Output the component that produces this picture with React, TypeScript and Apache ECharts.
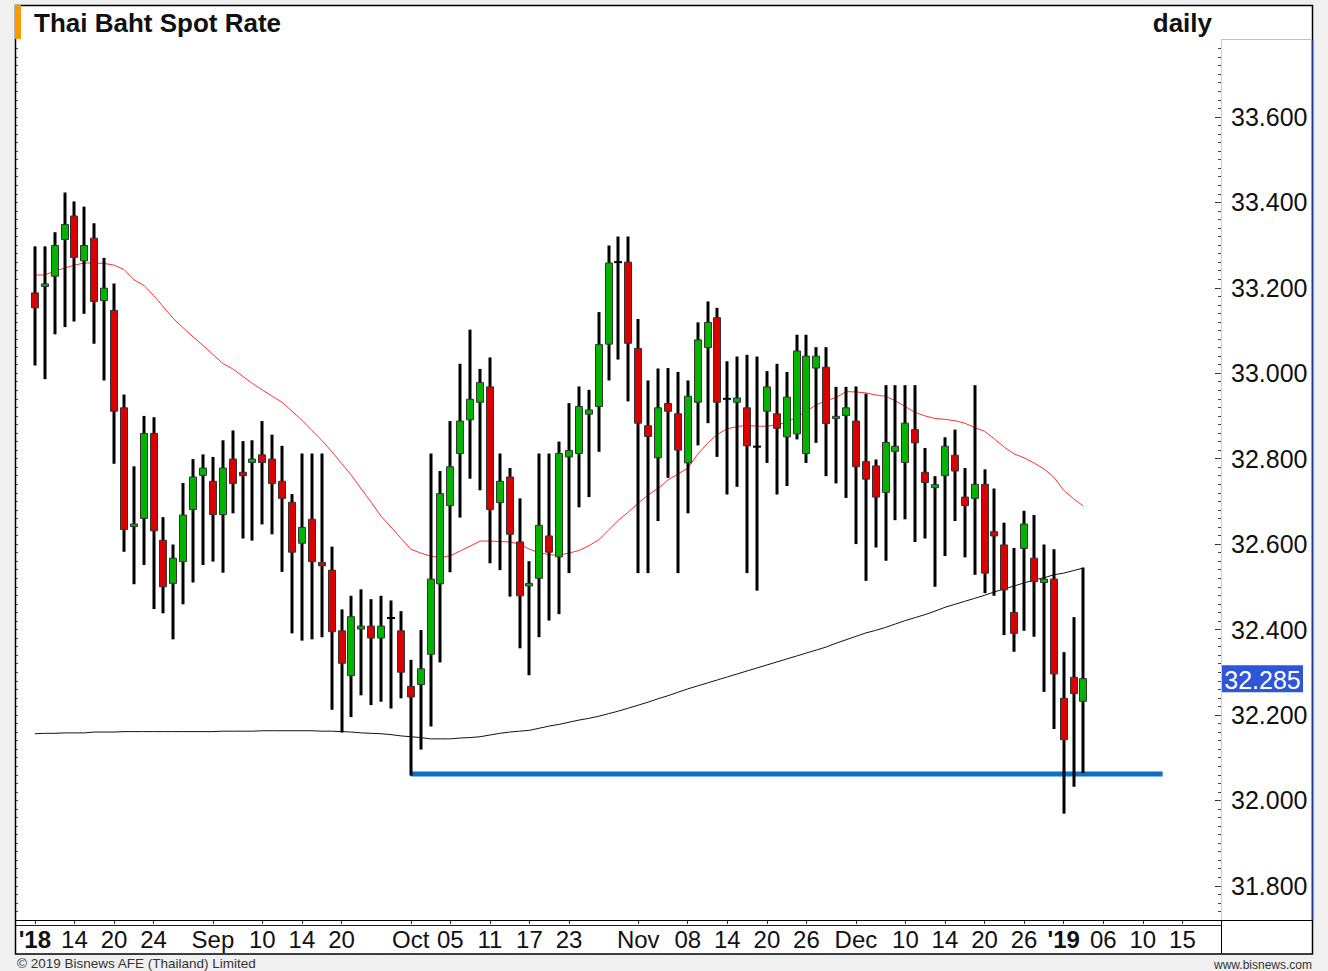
import React, { useEffect, useRef } from "react";
import * as echarts from "echarts";

const FONT = "'Liberation Sans', Arial, Helvetica, sans-serif";

// ---- data, one entry per trading day, 8 Aug 2018 .. 3 Jan 2019
const opens = [
  33.188, 33.203, 33.227, 33.313, 33.368, 33.263, 33.316, 33.170, 33.147, 32.919,
  32.641, 32.660, 32.859, 32.609, 32.508, 32.559, 32.681, 32.761, 32.747, 32.669,
  32.799, 32.768, 32.791, 32.809, 32.799, 32.747, 32.698, 32.602, 32.658, 32.557,
  32.539, 32.397, 32.292, 32.401, 32.408, 32.380, 32.427, 32.397, 32.267, 32.271,
  32.342, 32.507, 32.690, 32.812, 32.891, 32.932, 32.968, 32.697, 32.757, 32.605,
  32.502, 32.520, 32.619, 32.570, 32.804, 32.812, 32.904, 32.922, 33.068, 33.260,
  33.260, 33.058, 32.877, 32.802, 32.929, 32.905, 32.790, 32.932, 33.060, 33.130,
  32.940, 32.932, 32.919, 32.828, 32.911, 32.905, 32.851, 32.858, 32.812, 33.012,
  33.014, 32.894, 32.901, 32.888, 32.793, 32.783, 32.721, 32.817, 32.791, 32.868,
  32.768, 32.732, 32.760, 32.808, 32.710, 32.707, 32.740, 32.629, 32.598, 32.440,
  32.590, 32.567, 32.510, 32.518, 32.239, 32.288, 32.232,
];
const closes = [
  33.153, 33.209, 33.299, 33.348, 33.271, 33.299, 33.168, 33.199, 32.911, 32.634,
  32.647, 32.859, 32.631, 32.500, 32.567, 32.668, 32.757, 32.778, 32.669, 32.778,
  32.742, 32.760, 32.799, 32.791, 32.742, 32.707, 32.581, 32.639, 32.559, 32.549,
  32.395, 32.321, 32.430, 32.408, 32.380, 32.408, 32.427, 32.300, 32.242, 32.308,
  32.518, 32.718, 32.781, 32.888, 32.939, 32.978, 32.681, 32.747, 32.623, 32.479,
  32.508, 32.644, 32.581, 32.812, 32.819, 32.922, 32.914, 33.067, 33.258, 33.260,
  33.070, 32.883, 32.852, 32.919, 32.911, 32.820, 32.946, 33.078, 33.119, 32.932,
  32.940, 32.942, 32.830, 32.828, 32.968, 32.871, 32.944, 33.052, 33.040, 33.040,
  32.882, 32.899, 32.919, 32.781, 32.752, 32.710, 32.838, 32.829, 32.883, 32.837,
  32.744, 32.739, 32.829, 32.771, 32.690, 32.740, 32.532, 32.619, 32.493, 32.391,
  32.647, 32.512, 32.518, 32.296, 32.142, 32.250, 32.285,
];
const highs = [
  33.297, 33.297, 33.330, 33.423, 33.402, 33.390, 33.351, 33.270, 33.210, 32.950,
  32.782, 32.900, 32.897, 32.663, 32.599, 32.743, 32.799, 32.810, 32.804, 32.843,
  32.866, 32.841, 32.843, 32.888, 32.856, 32.830, 32.717, 32.812, 32.812, 32.812,
  32.594, 32.447, 32.479, 32.494, 32.471, 32.479, 32.468, 32.443, 32.329, 32.399,
  32.812, 32.771, 32.888, 33.022, 33.102, 33.010, 33.037, 32.812, 32.778, 32.707,
  32.560, 32.812, 32.812, 32.840, 32.930, 32.969, 32.961, 33.143, 33.299, 33.320,
  33.320, 33.127, 32.983, 33.011, 33.012, 33.003, 32.983, 33.119, 33.168, 33.153,
  33.028, 33.039, 33.043, 33.039, 33.005, 33.022, 33.003, 33.090, 33.090, 33.061,
  33.061, 32.968, 32.968, 32.969, 32.952, 32.798, 32.972, 32.972, 32.972, 32.972,
  32.825, 32.759, 32.850, 32.868, 32.778, 32.972, 32.775, 32.730, 32.650, 32.591,
  32.678, 32.668, 32.599, 32.588, 32.347, 32.429, 32.545,
];
const lows = [
  33.018, 32.986, 33.091, 33.108, 33.121, 33.139, 33.069, 32.983, 32.788, 32.582,
  32.506, 32.551, 32.448, 32.438, 32.377, 32.459, 32.510, 32.551, 32.559, 32.533,
  32.672, 32.613, 32.608, 32.646, 32.623, 32.535, 32.391, 32.374, 32.377, 32.382,
  32.212, 32.159, 32.195, 32.246, 32.223, 32.231, 32.215, 32.239, 32.058, 32.119,
  32.173, 32.323, 32.534, 32.662, 32.753, 32.726, 32.555, 32.539, 32.477, 32.356,
  32.293, 32.382, 32.421, 32.436, 32.532, 32.686, 32.710, 32.816, 32.983, 33.032,
  32.934, 32.532, 32.532, 32.654, 32.755, 32.532, 32.672, 32.831, 32.883, 32.804,
  32.716, 32.734, 32.532, 32.491, 32.790, 32.716, 32.736, 32.845, 32.790, 32.837,
  32.759, 32.742, 32.708, 32.600, 32.514, 32.592, 32.561, 32.656, 32.658, 32.605,
  32.613, 32.500, 32.572, 32.654, 32.569, 32.528, 32.485, 32.479, 32.387, 32.348,
  32.397, 32.383, 32.254, 32.167, 31.969, 32.032, 32.064,
];
// short moving average (red)
const maShort = [
  33.230, 33.230, 33.239, 33.246, 33.253, 33.258, 33.258, 33.257, 33.253, 33.243,
  33.219, 33.206, 33.182, 33.155, 33.128, 33.106, 33.085, 33.065, 33.044, 33.023,
  33.010, 32.993, 32.976, 32.961, 32.946, 32.932, 32.911, 32.890, 32.866, 32.843,
  32.817, 32.789, 32.761, 32.729, 32.698, 32.665, 32.640, 32.614, 32.588, 32.579,
  32.572, 32.568, 32.573, 32.584, 32.595, 32.607, 32.607, 32.606, 32.605, 32.600,
  32.588, 32.580, 32.575, 32.574, 32.579, 32.585, 32.596, 32.610, 32.633, 32.656,
  32.675, 32.696, 32.715, 32.730, 32.750, 32.764, 32.778, 32.810, 32.836, 32.857,
  32.870, 32.875, 32.878, 32.876, 32.876, 32.879, 32.885, 32.897, 32.911, 32.926,
  32.936, 32.943, 32.957, 32.956, 32.954, 32.949, 32.946, 32.935, 32.922, 32.908,
  32.900, 32.894, 32.892, 32.889, 32.883, 32.873, 32.864, 32.846, 32.827, 32.811,
  32.802, 32.790, 32.776, 32.757, 32.726, 32.706, 32.689,
];
// long moving average (black)
const maLong = [
  32.156, 32.157, 32.157, 32.158, 32.158, 32.158, 32.160, 32.160, 32.160, 32.161,
  32.161, 32.161, 32.161, 32.161, 32.161, 32.161, 32.161, 32.161, 32.161, 32.162,
  32.162, 32.162, 32.162, 32.163, 32.163, 32.163, 32.163, 32.163, 32.163, 32.162,
  32.162, 32.161, 32.160, 32.158, 32.157, 32.156, 32.154, 32.151, 32.149, 32.147,
  32.144, 32.144, 32.144, 32.146, 32.147, 32.149, 32.153, 32.157, 32.160, 32.162,
  32.164, 32.169, 32.174, 32.178, 32.183, 32.188, 32.192, 32.197, 32.203, 32.209,
  32.216, 32.223, 32.230, 32.238, 32.245, 32.253, 32.261, 32.268, 32.275, 32.282,
  32.289, 32.296, 32.303, 32.310, 32.317, 32.324, 32.331, 32.338, 32.345, 32.352,
  32.359, 32.368, 32.376, 32.384, 32.392, 32.398, 32.405, 32.413, 32.421, 32.428,
  32.435, 32.443, 32.452, 32.459, 32.466, 32.473, 32.480, 32.488, 32.495, 32.502,
  32.509, 32.516, 32.521, 32.528, 32.532, 32.538, 32.544,
];
// support line (blue): level and the slots it spans
const supportLevel = 32.062;
const supportFromSlot = 39;
const supportToSlot = 115;

// axis
const SLOT_COUNT = 121;
const FIRST_SLOT = 1;
const xLabelSlots = [1, 5, 9, 13, 19, 24, 28, 32, 39, 43, 47, 51, 55, 62, 67, 71, 75, 79, 84, 89, 93, 97, 101, 105, 109, 113, 117];
const xLabelTexts = ["'18", "14", "20", "24", "Sep", "10", "14", "20", "Oct", "05", "11", "17", "23", "Nov", "08", "14", "20", "26", "Dec", "10", "14", "20", "26", "'19", "06", "10", "15"];
const yTickLabels = [31.8, 32.0, 32.2, 32.4, 32.6, 32.8, 33.0, 33.2, 33.4, 33.6];
const Y_MIN = 31.72;
const Y_MAX = 33.78;

const minorTicks: number[] = [];
for (let k = 1587; k <= 1688; k++) minorTicks.push(Math.round(k * 2) / 100);

const labelMap: Record<number, string> = {};
xLabelSlots.forEach((s, i) => (labelMap[s] = xLabelTexts[i]));
const categories = Array.from({ length: SLOT_COUNT }, (_, i) => String(i));

const candleData = opens.map((o, i) => [i + FIRST_SLOT, o, closes[i], lows[i], highs[i]]);
const pad = (arr: number[]) => {
  const out: (number | null)[] = new Array(SLOT_COUNT).fill(null);
  arr.forEach((v, i) => (out[i + FIRST_SLOT] = v));
  return out;
};

function renderCandle(params: any, api: any) {
  const xi = api.value(0);
  const o = api.value(1);
  const c = api.value(2);
  const l = api.value(3);
  const h = api.value(4);
  const pH = api.coord([xi, h]);
  const pL = api.coord([xi, l]);
  const pO = api.coord([xi, o]);
  const pC = api.coord([xi, c]);
  const x = Math.round(pH[0]);
  const children: any[] = [
    { type: "rect", shape: { x: x - 1.5, y: pH[1], width: 3, height: pL[1] - pH[1] }, style: { fill: "#000" } },
  ];
  if (o === c) {
    children.push({ type: "rect", shape: { x: x - 4, y: pO[1] - 1, width: 8, height: 2 }, style: { fill: "#000" } });
  } else {
    const top = Math.min(pO[1], pC[1]);
    const ht = Math.max(Math.abs(pO[1] - pC[1]), 2);
    children.push({
      type: "rect",
      shape: { x: x - 3.5, y: top, width: 7, height: ht },
      style: { fill: c > o ? "#00b400" : "#dd0000", stroke: "#333", lineWidth: 1 },
    });
  }
  return { type: "group", children };
}

export default function App() {
  const ref = useRef<HTMLDivElement>(null);
  useEffect(() => {
    const chart = echarts.init(ref.current as HTMLDivElement, null, { renderer: "svg", width: 1328, height: 971 });
    const option: any = {
      animation: false,
      backgroundColor: "#f0f0f0",
      grid: { left: 20, right: 111, top: 40, bottom: 51, containLabel: false, outerBoundsMode: "none" },
      xAxis: {
        type: "category",
        data: categories,
        boundaryGap: true,
        axisLine: { show: false },
        axisTick: {
          show: true,
          alignWithLabel: true,
          interval: (i: number) => labelMap[i] !== undefined,
          length: 4,
          lineStyle: { color: "#333" },
        },
        axisLabel: {
          interval: (i: number) => labelMap[i] !== undefined,
          formatter: (_v: string, i: number) => {
            const t = labelMap[i] ?? "";
            return t.startsWith("'") ? `{b|${t}}` : t;
          },
          fontSize: 24,
          fontFamily: FONT,
          color: "#111",
          margin: 7,
          rich: { b: { fontSize: 24, fontFamily: FONT, fontWeight: "bold", color: "#111" } },
        },
        splitLine: { show: false },
      },
      yAxis: [
        {
          type: "value",
          position: "right",
          min: Y_MIN,
          max: Y_MAX,
          offset: 4,
          splitLine: { show: false },
          axisLine: { show: true, lineStyle: { color: "#e8c060", type: "dotted", width: 1 } },
          axisTick: { show: true, inside: true, length: 6, customValues: yTickLabels, lineStyle: { color: "#333" } },
          axisLabel: {
            customValues: yTickLabels,
            formatter: (v: number) => v.toFixed(3),
            fontSize: 25,
            fontFamily: FONT,
            color: "#111",
            margin: 10,
          },
        },
        {
          type: "value",
          position: "right",
          min: Y_MIN,
          max: Y_MAX,
          offset: 4,
          splitLine: { show: false },
          axisLine: { show: false },
          axisTick: { show: true, inside: true, length: 3, customValues: minorTicks, lineStyle: { color: "#444" } },
          axisLabel: { show: false },
        },
        {
          type: "value",
          position: "left",
          min: Y_MIN,
          max: Y_MAX,
          offset: 4,
          splitLine: { show: false },
          axisLine: { show: false },
          axisTick: { show: true, inside: true, length: 2, customValues: minorTicks, lineStyle: { color: "#444" } },
          axisLabel: { show: false },
        },
      ],
      series: [
        {
          type: "line",
          name: "support",
          z: 1,
          data: [
            [supportFromSlot, supportLevel],
            [supportToSlot, supportLevel],
          ],
          showSymbol: false,
          symbol: "none",
          lineStyle: { color: "#0a70c4", width: 5 },
        },
        {
          type: "line",
          name: "MA long",
          z: 2,
          data: pad(maLong),
          showSymbol: false,
          symbol: "none",
          lineStyle: { color: "#111", width: 1 },
        },
        {
          type: "line",
          name: "MA short",
          z: 2,
          data: pad(maShort),
          showSymbol: false,
          symbol: "none",
          lineStyle: { color: "#ff3030", width: 1 },
        },
        {
          type: "custom",
          name: "THB",
          z: 3,
          renderItem: renderCandle,
          dimensions: ["slot", "open", "close", "low", "high"],
          encode: { x: 0, y: [1, 2, 3, 4] },
          data: candleData,
          clip: false,
        },
      ],
    };
    chart.setOption(option);

    const lastClose = closes[closes.length - 1];
    const yPix = chart.convertToPixel({ yAxisIndex: 0 }, lastClose) as number;

    chart.setOption({
      graphic: [
        { type: "rect", z: -10, shape: { x: 15.5, y: 5.5, width: 1297, height: 948.5 }, style: { fill: "#fff", stroke: "#000", lineWidth: 1.5 } },
        { type: "rect", z: 10, shape: { x: 15, y: 5, width: 6, height: 34 }, style: { fill: "#ff9900" } },
        { type: "text", z: 10, x: 34, y: 23, style: { text: "Thai Baht Spot Rate", font: `bold 26px ${FONT}`, fill: "#111", align: "left", verticalAlign: "middle" } },
        { type: "text", z: 10, x: 1212, y: 23, style: { text: "daily", font: `bold 26px ${FONT}`, fill: "#111", align: "right", verticalAlign: "middle" } },
        { type: "line", z: 10, shape: { x1: 1221, y1: 39.5, x2: 1312, y2: 39.5 }, style: { stroke: "#e8c060", lineWidth: 1 } },
        { type: "line", z: 10, shape: { x1: 1312.5, y1: 40, x2: 1312.5, y2: 921 }, style: { stroke: "#1f3b9b", lineWidth: 1.5 } },
        { type: "line", z: 10, shape: { x1: 16, y1: 920.5, x2: 1313, y2: 920.5 }, style: { stroke: "#000", lineWidth: 1 } },
        { type: "line", z: 10, shape: { x1: 16, y1: 925.5, x2: 1221, y2: 925.5 }, style: { stroke: "#222", lineWidth: 1 } },
        { type: "line", z: 10, shape: { x1: 1221.5, y1: 921, x2: 1221.5, y2: 954 }, style: { stroke: "#000", lineWidth: 1 } },
        {
          type: "group",
          z: 20,
          children: [
            { type: "rect", z: 20, shape: { x: 1222, y: yPix - 13.5, width: 81, height: 27 }, style: { fill: "#2f55d8" } },
            { type: "text", z: 21, x: 1262.5, y: yPix + 1, style: { text: lastClose.toFixed(3), font: `25px ${FONT}`, fill: "#fff", align: "center", verticalAlign: "middle" } },
          ],
        },
        { type: "text", z: 10, x: 17, y: 963, style: { text: "© 2019 Bisnews AFE (Thailand) Limited", font: `13.5px ${FONT}`, fill: "#333", align: "left", verticalAlign: "middle" } },
        { type: "text", z: 10, x: 1312, y: 965, style: { text: "www.bisnews.com", font: `12px ${FONT}`, fill: "#333", align: "right", verticalAlign: "middle" } },
      ],
    });
    return () => chart.dispose();
  }, []);
  return <div ref={ref} style={{ position: "absolute", left: 0, top: 0, width: 1328, height: 971 }} />;
}
